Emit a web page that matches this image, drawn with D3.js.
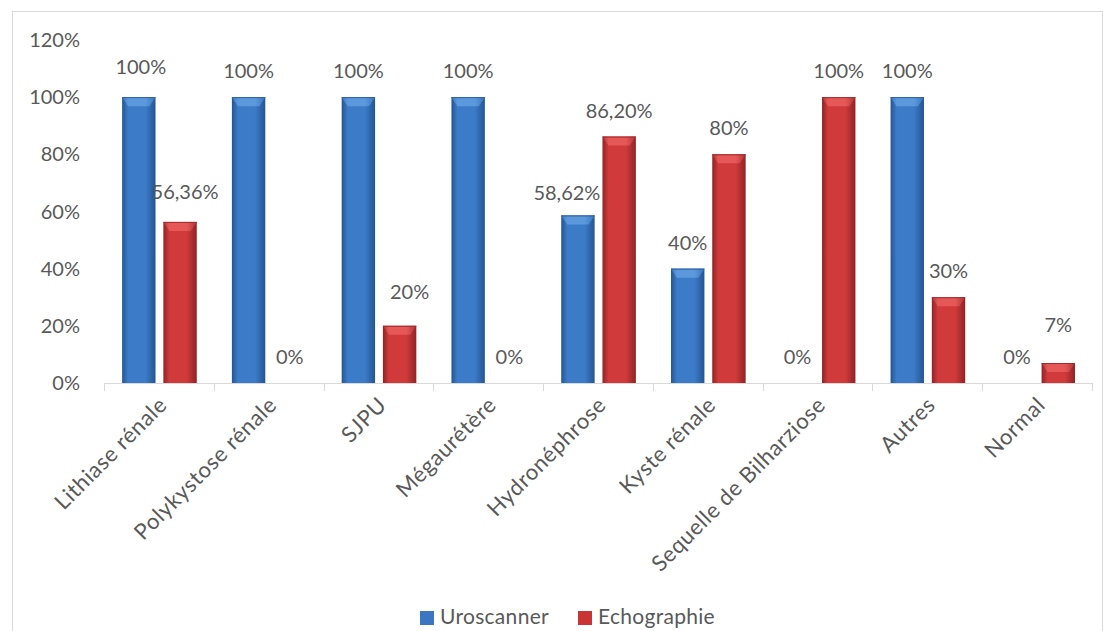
<!DOCTYPE html>
<html lang="fr">
    <head>
        <meta charset="UTF-8">
        <title>Uroscanner vs Echographie</title>
        <script src="https://d3js.org/d3.v7.min.js"></script>
    </head>

    <style>
        body {
            margin: 0;
            background: white;
        }

        text {
            font-family: Lato, "Open Sans", sans-serif;
            fill: #595959;
        }

        .axis-line {
            stroke: #d9d9d9;
            stroke-width: 1px;
        }

    </style>
    <body>
        <svg id="chart" height="631" width="1103"></svg>

        <script>
            // categories + values (percent)
            const categories = ["Lithiase rénale", "Polykystose rénale", "SJPU", "Mégaurétère",
                "Hydronéphrose", "Kyste rénale", "Sequelle de Bilharziose", "Autres", "Normal"];
            const uroscanner = [100, 100, 100, 100, 58.62, 40, 0, 100, 0];
            const echographie = [56.36, 0, 20, 0, 86.2, 80, 100, 30, 7];
            const uroLabels = ["100%", "100%", "100%", "100%", "58,62%", "40%", "0%", "100%", "0%"];
            const echoLabels = ["56,36%", "0%", "20%", "0%", "86,20%", "80%", "100%", "30%", "7%"];
            const yTicks = [0, 20, 40, 60, 80, 100, 120];
            const seriesNames = ["Uroscanner", "Echographie"];

            // label tweaks (excel moved some of them)
            const labelNudge = {
                "Uroscanner|Lithiase rénale": [2, -4],
                "Echographie|Lithiase rénale": [5, -4],
                "Uroscanner|Hydronéphrose": [-11, 4],
                "Echographie|SJPU": [10, -8],
                "Echographie|Normal": [0, -12]
            };

            const svg = d3.select("#chart");
            const plotLeft = 104, plotRight = 1092, plotTop = 40, plotBottom = 383;

            const defs = svg.append("defs");
            const makeGrad = function(id, edge, mid) {
                const g = defs.append("linearGradient").attr("id", id)
                    .attr("x1", "0%").attr("x2", "100%").attr("y1", "0%").attr("y2", "0%");
                g.append("stop").attr("offset", "0%").attr("stop-color", edge);
                g.append("stop").attr("offset", "18%").attr("stop-color", mid);
                g.append("stop").attr("offset", "70%").attr("stop-color", mid);
                g.append("stop").attr("offset", "100%").attr("stop-color", edge);
            };
            makeGrad("gBlue", "#245592", "#3b7bc8");
            makeGrad("gRed", "#8f2426", "#d03a3a");
            makeGrad("gBlueTop", "#3a76c0", "#5c98dc");
            makeGrad("gRedTop", "#b03234", "#e65858");

            const colors = {Uroscanner: "gBlue", Echographie: "gRed"};
            const legendColors = {Uroscanner: "#3a76c2", Echographie: "#c93535"};

            // chart frame
            svg.append("rect")
                .attr("x", 12.5).attr("y", 11.5)
                .attr("width", 1090).attr("height", 660)
                .attr("fill", "none")
                .attr("stroke", "#d9d9d9");

            const x0 = d3.scaleBand().domain(categories).range([plotLeft, plotRight]);
            const step = x0.step();
            const x1 = d3.scaleBand().domain(seriesNames)
                .range([step * 0.165, step * 0.845])
                .paddingInner(0.19);
            const y = d3.scaleLinear().domain([0, 120]).range([plotBottom, plotTop]);

            // y labels (no axis line, no grid)
            svg.append("g").selectAll("text").data(yTicks)
                .join("text")
                .attr("x", 80)
                .attr("y", d => y(d))
                .attr("dy", "0.35em")
                .attr("text-anchor", "end")
                .attr("font-size", 20)
                .text(d => d + "%");

            // x axis
            const xAxis = svg.append("g");
            xAxis.append("line").attr("class", "axis-line")
                .attr("x1", plotLeft).attr("x2", plotRight)
                .attr("y1", plotBottom + 0.5).attr("y2", plotBottom + 0.5);
            const bounds = categories.map(c => x0(c)).concat([plotRight]);
            xAxis.selectAll("line.tick").data(bounds)
                .join("line")
                .attr("class", "axis-line tick")
                .attr("x1", d => Math.round(d) + 0.5).attr("x2", d => Math.round(d) + 0.5)
                .attr("y1", plotBottom).attr("y2", plotBottom + 8);

            xAxis.selectAll("text").data(categories)
                .join("text")
                .attr("text-anchor", "end")
                .attr("font-size", 22)
                .attr("letter-spacing", 0.6)
                .attr("transform", d => "translate(" + (x0(d) + step / 2 + 4) + "," + (plotBottom + 18) + ") rotate(-45)")
                .attr("dy", "0.35em")
                .text(d => d);

            // bars
            const rows = [];
            categories.forEach((c, i) => {
                rows.push({cat: c, s: "Uroscanner", v: uroscanner[i], lab: uroLabels[i]});
                rows.push({cat: c, s: "Echographie", v: echographie[i], lab: echoLabels[i]});
            });

            const bars = svg.append("g");
            const bw = x1.bandwidth();
            rows.filter(d => d.v > 0).forEach(d => {
                const bx = x0(d.cat) + x1(d.s);
                const by = y(d.v);
                const h = plotBottom - by;
                bars.append("rect")
                    .attr("x", bx).attr("y", by)
                    .attr("width", bw).attr("height", h)
                    .attr("fill", "url(#" + colors[d.s] + ")");
                const bev = Math.min(9, h / 2);
                bars.append("path")
                    .attr("d", "M" + bx + "," + by + "H" + (bx + bw) +
                        "L" + (bx + bw - 6) + "," + (by + bev) + "H" + (bx + 6) + "Z")
                    .attr("fill", "url(#" + colors[d.s] + "Top)");
                bars.append("line")
                    .attr("x1", bx).attr("x2", bx + bw)
                    .attr("y1", by + 0.5).attr("y2", by + 0.5)
                    .attr("stroke", d.s == "Uroscanner" ? "#2d5f9e" : "#a02c2e")
                    .attr("stroke-width", 1);
            });

            // data labels
            svg.append("g").selectAll("text").data(rows)
                .join("text")
                .attr("text-anchor", "middle")
                .attr("font-size", 20)
                .attr("x", d => {
                    const n = labelNudge[d.s + "|" + d.cat];
                    return x0(d.cat) + x1(d.s) + bw / 2 + (n ? n[0] : 0);
                })
                .attr("y", d => {
                    const n = labelNudge[d.s + "|" + d.cat];
                    return y(d.v) - 26 + (n ? n[1] : 0);
                })
                .attr("dy", "0.35em")
                .text(d => d.lab);

            // legend
            const legend = svg.append("g");
            const legX = [420, 578];
            seriesNames.forEach((s, i) => {
                legend.append("rect")
                    .attr("x", legX[i]).attr("y", 611)
                    .attr("width", 14).attr("height", 14)
                    .attr("fill", legendColors[s]);
                legend.append("text")
                    .attr("x", legX[i] + 20).attr("y", 617)
                    .attr("dy", "0.35em")
                    .attr("font-size", 21)
                    .attr("letter-spacing", 0.3)
                    .text(s);
            });
        </script>
    </body>
</html>
